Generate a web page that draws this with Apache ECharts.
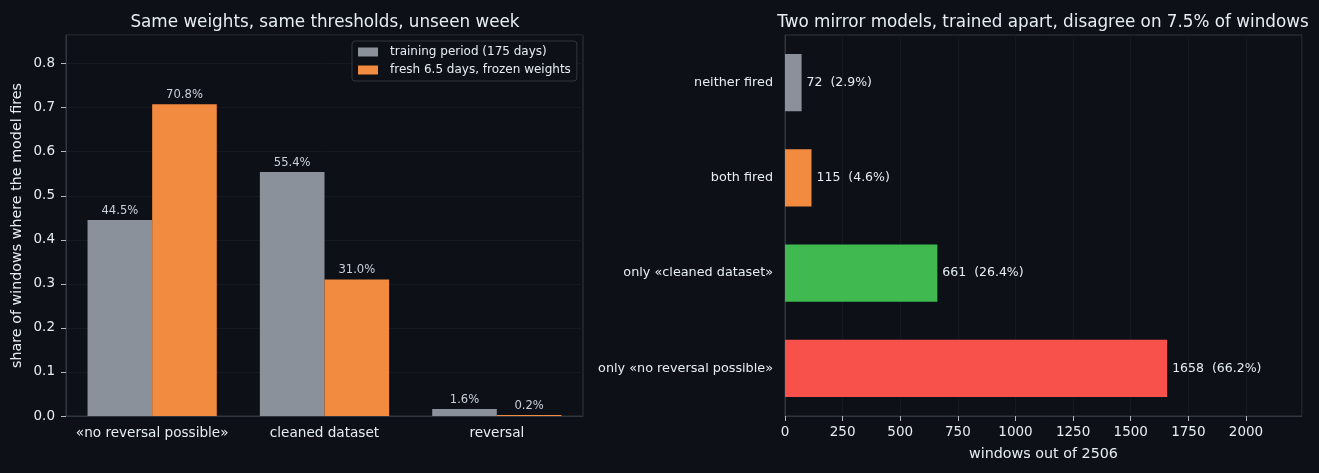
<!DOCTYPE html>
<html>
<head>
<meta charset="utf-8">
<script src="https://cdn.jsdelivr.net/npm/echarts@6/dist/echarts.min.js"></script>
<style>
  html, body { margin: 0; padding: 0; background: #0d1017; }
  #chart { width: 1319px; height: 473px; }
</style>
</head>
<body>
<div id="chart"></div>
<script>
// left panel: share of windows where each model fires
const fireCategories = ['«no reversal possible»', 'cleaned dataset', 'reversal']
const trainingShare = [0.445, 0.554, 0.016]
const freshShare = [0.708, 0.310, 0.002]
const seriesNames = ['training period (175 days)', 'fresh 6.5 days, frozen weights']

// right panel: agreement between the two mirror models
const mirrorCategories = ['only «no reversal possible»', 'only «cleaned dataset»', 'both fired', 'neither fired']
const mirrorCounts = [1658, 661, 115, 72]
const totalWindows = 2506

const barColors = ['#f8514c', '#3fb950', '#f28a3f', '#8b919b']

const textColor = '#e6edf3'
const frameColor = '#30363d'
const gridColor = '#151a21'
const tickColor = '#b1bac4'
const font = 'DejaVu Sans'

const chart = echarts.init(document.getElementById('chart'))

chart.setOption({
  backgroundColor: '#0d1017',
  textStyle: { fontFamily: font, color: textColor },
  title: [
    {
      text: 'Same weights, same thresholds, unseen week',
      left: 320, top: 9, textAlign: 'center',
      textStyle: { color: textColor, fontSize: 16.8, fontWeight: 'normal', fontFamily: font }
    },
    {
      text: 'Two mirror models, trained apart, disagree on 7.5% of windows',
      left: 1038, top: 9, textAlign: 'center',
      textStyle: { color: textColor, fontSize: 16.8, fontWeight: 'normal', fontFamily: font }
    }
  ],
  legend: {
    data: seriesNames,
    left: 352, top: 41,
    orient: 'vertical',
    icon: 'rect',
    padding: [5, 6, 5, 6],
    itemGap: 6,
    itemWidth: 20,
    itemHeight: 9,
    backgroundColor: '#0d1017',
    borderColor: frameColor,
    borderWidth: 1,
    borderRadius: 3,
    textStyle: { color: textColor, fontSize: 12, fontFamily: font, padding: [0, 0, 0, 7] }
  },
  grid: [
    { left: 66, right: 736, top: 35, bottom: 57, show: true, borderColor: frameColor, borderWidth: 1 },
    { left: 785, right: 17, top: 35, bottom: 57, show: true, borderColor: frameColor, borderWidth: 1 }
  ],
  xAxis: [
    {
      type: 'category', gridIndex: 0, data: fireCategories,
      axisLine: { lineStyle: { color: frameColor } },
      axisTick: { alignWithLabel: true, length: 5, lineStyle: { color: tickColor } },
      axisLabel: { color: textColor, fontSize: 13.6, margin: 10, interval: 0 }
    },
    {
      type: 'value', gridIndex: 1, min: 0, max: 2243, interval: 250,
      name: 'windows out of ' + totalWindows, nameLocation: 'middle', nameGap: 31,
      nameTextStyle: { color: textColor, fontSize: 14.3 },
      axisLine: { show: true, lineStyle: { color: frameColor } },
      axisTick: { show: true, length: 5, lineStyle: { color: tickColor } },
      axisLabel: { color: textColor, fontSize: 13.5, margin: 9, showMaxLabel: false,
        formatter: v => String(v) },
      splitLine: { show: true, lineStyle: { color: gridColor } }
    }
  ],
  yAxis: [
    {
      type: 'value', gridIndex: 0, min: 0, max: 0.865, interval: 0.1,
      name: 'share of windows where the model fires', nameLocation: 'middle', nameGap: 42,
      nameTextStyle: { color: textColor, fontSize: 14.3 },
      axisLine: { show: true, lineStyle: { color: frameColor } },
      axisTick: { show: true, length: 5, lineStyle: { color: tickColor } },
      axisLabel: { color: textColor, fontSize: 13.5, margin: 11, showMaxLabel: false,
        formatter: v => v.toFixed(1) },
      splitLine: { show: true, lineStyle: { color: gridColor } }
    },
    {
      type: 'category', gridIndex: 1, data: mirrorCategories,
      axisLine: { lineStyle: { color: frameColor } },
      axisTick: { alignWithLabel: true, length: 5, lineStyle: { color: tickColor } },
      axisLabel: { color: textColor, fontSize: 12.8, margin: 12 }
    }
  ],
  series: [
    {
      name: seriesNames[0], type: 'bar', xAxisIndex: 0, yAxisIndex: 0,
      data: trainingShare, barGap: '0%', barCategoryGap: '25%',
      itemStyle: { color: '#8b919b' },
      label: { show: true, position: 'top', distance: 3, color: '#c9d1d9', fontSize: 11.6,
        formatter: p => (p.value * 100).toFixed(1) + '%' }
    },
    {
      name: seriesNames[1], type: 'bar', xAxisIndex: 0, yAxisIndex: 0,
      data: freshShare, barGap: '0%', barCategoryGap: '25%',
      itemStyle: { color: '#f28a3f' },
      label: { show: true, position: 'top', distance: 3, color: '#c9d1d9', fontSize: 11.6,
        formatter: p => (p.value * 100).toFixed(1) + '%' }
    },
    {
      type: 'bar', xAxisIndex: 1, yAxisIndex: 1,
      data: mirrorCounts.map((v, i) => ({ value: v, itemStyle: { color: barColors[i] } })),
      barWidth: '60%',
      label: { show: true, position: 'right', distance: 5, color: textColor, fontSize: 12.5,
        formatter: p => p.value + '  (' + (p.value / totalWindows * 100).toFixed(1) + '%)' }
    }
  ]
})

window.addEventListener('resize', () => {
  chart.resize()
})
</script>
</body>
</html>
